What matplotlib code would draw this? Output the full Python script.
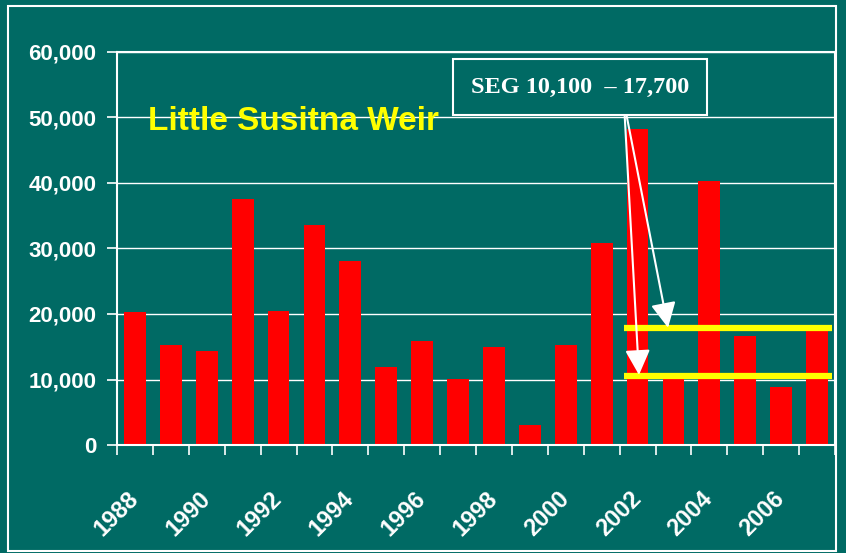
import matplotlib.pyplot as plt
from matplotlib.patches import Rectangle
from matplotlib.ticker import FuncFormatter, FixedLocator

# Little Susitna weir counts
years = list(range(1988, 2008))
counts = [20300, 15300, 14400, 37600, 20500, 33600, 28100, 11900, 15900, 10100,
          15000, 3100, 15300, 30800, 48200, 10500, 40300, 16600, 8900, 17600]
seg_lines = [10500, 17800]          # drawn goal lines
seg_label = "SEG 10,100  \u2013 17,700"
title = "Little Susitna Weir"

plt.rcParams['font.family'] = ['Liberation Sans', 'DejaVu Sans']

bg = '#006A64'
fig = plt.figure(figsize=(8.46, 5.53), dpi=100, facecolor=bg)
ax = fig.add_axes([117/846, 1 - 445/553, (835 - 117)/846, (445 - 52)/553])
ax.set_facecolor(bg)

# outer white frame
fig.patches.append(Rectangle((8/846, 2/553), 828/846, 545/553, transform=fig.transFigure,
                             fill=False, edgecolor='white', lw=1.5))

x = list(range(len(years)))
ax.bar(x, counts, width=0.61, color='#FF0000', zorder=2)
ax.set_xlim(-0.5, len(years) - 0.5)
ax.set_ylim(0, 60000)

ax.set_yticks(range(0, 60001, 10000))
ax.yaxis.set_major_formatter(FuncFormatter(lambda v, p: f"{int(v):,}"))
ax.grid(axis='y', color='white', lw=1, zorder=1)
for s in ax.spines.values():
    s.set_color('white')
    s.set_linewidth(1.5)

ax.xaxis.set_major_locator(FixedLocator([i - 0.5 for i in range(len(years) + 1)]))
ax.set_xticklabels([])
ax.tick_params(axis='x', length=7, color='white', width=1.2)
ax.tick_params(axis='y', length=7, color='white', width=1.2, pad=8,
               labelcolor='white', labelsize=16)
for t in ax.get_yticklabels():
    t.set_fontweight('bold')

# year labels every other year
for i, yr in enumerate(years):
    if yr % 2 == 0:
        ax.annotate(str(yr), xy=(i, 0), xycoords=('data', 'axes fraction'),
                    xytext=(-6, -30), textcoords='offset points',
                    rotation=45, ha='right', va='top', rotation_mode='anchor',
                    color='white', fontsize=17, fontweight='bold')

# SEG goal lines
for v in seg_lines:
    ax.hlines(v, 13.62, 19.42, color='#FFFF00', lw=4.5, zorder=3)

fig.text(148/846, 1 - 122/553, title, color='#FFFF00', fontsize=24, fontweight='bold',
         va='center', ha='left')

ax.text(12.40, 54600, seg_label, ha='center', va='center', color='white',
        fontsize=17.5, fontweight='bold', family='Liberation Serif', zorder=5,
        bbox=dict(boxstyle='square,pad=0.72', facecolor=bg, edgecolor='white', lw=1.5))

start = (13.62, 52400)
for end in [(14.85, 17900), (14.04, 10700)]:
    ax.annotate('', xy=end, xytext=start,
                arrowprops=dict(arrowstyle='-|>,head_length=0.7,head_width=0.35',
                                color='white', lw=1.5,
                                mutation_scale=22, shrinkA=0, shrinkB=0), zorder=4)

plt.savefig('out.png', facecolor=fig.get_facecolor())
